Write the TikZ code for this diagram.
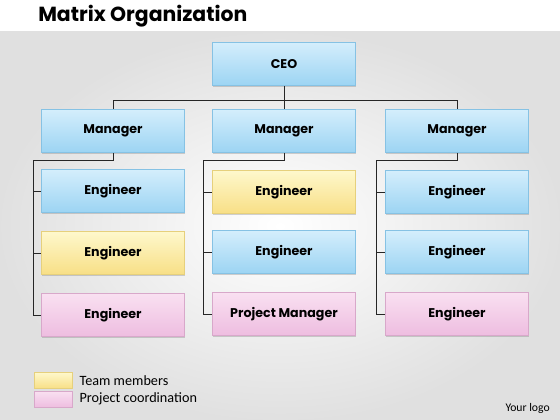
\documentclass[tikz,border=0pt]{standalone}
\usepackage{fontspec}
\setmainfont{Carlito}
\newfontfamily\headfont{Poppins}
\usetikzlibrary{positioning,shadows}

\definecolor{blueTop}{HTML}{D4EEFC}
\definecolor{blueBot}{HTML}{9CD4F3}
\definecolor{blueLine}{HTML}{86C2E4}
\definecolor{yellowTop}{HTML}{FEF8CC}
\definecolor{yellowBot}{HTML}{F8DF86}
\definecolor{yellowLine}{HTML}{E6D07C}
\definecolor{pinkTop}{HTML}{F9E0F1}
\definecolor{pinkBot}{HTML}{EEBDE0}
\definecolor{pinkLine}{HTML}{D8A8CA}

\tikzset{
    box/.style={draw=#1Line, top color=#1Top, bottom color=#1Bot,
        minimum width=3.575cm, minimum height=1.075cm, inner sep=0pt,
        font=\headfont\bfseries\fontsize{9}{11}\selectfont,
        drop shadow={shadow xshift=0.4pt, shadow yshift=-1pt, opacity=0.35}},
    swatch/.style={draw=#1Line, top color=#1Top, bottom color=#1Bot,
        minimum width=0.95cm, minimum height=0.4cm, inner sep=0pt},
    link/.style={line width=0.7pt, black!85},
}

\begin{document}
\begin{tikzpicture}[x=0.025cm, y=-0.025cm]
    \useasboundingbox (0,0) rectangle (560,420);

    % Background
    \fill[white] (0,0) rectangle (560,32);
    \fill[inner color=white, outer color=gray!24] (0,32) rectangle (560,420);
    \node[anchor=west, inner sep=0pt, font=\headfont\bfseries\fontsize{14.5}{16}\selectfont] (title) at (38,16) {Matrix Organization};

    % Top level
    \node[box=blue] (ceo) at (284,64) {CEO};
    \node[box=blue] (m1) at (113,131) {Manager};
    \node[box=blue] (m2) at (284,131) {Manager};
    \node[box=blue] (m3) at (457,131) {Manager};
    \coordinate (bus) at (284,100);
    \draw[link] (ceo.south) -- (m2.north);
    \draw[link] (m1.north) -- (m1.north |- bus) -- (m3.north |- bus) -- (m3.north);

    % Columns
    \node[box=blue]   (e11) at (113,191) {Engineer};
    \node[box=yellow] (e12) at (113,253) {Engineer};
    \node[box=pink]   (e13) at (113,315) {Engineer};
    \node[box=yellow] (e21) at (284,192) {Engineer};
    \node[box=blue]   (e22) at (284,252) {Engineer};
    \node[box=pink]   (e23) at (284,314) {Project Manager};
    \node[box=blue]   (e31) at (457,192) {Engineer};
    \node[box=blue]   (e32) at (457,252) {Engineer};
    \node[box=pink]   (e33) at (457,314) {Engineer};

    \foreach \c/\sx in {1/33, 2/203.5, 3/376.5} {
        \coordinate (s\c) at (\sx,160);
        \draw[link] (m\c.south) |- (s\c) -- (s\c |- e\c3) -- (e\c3.west);
        \draw[link] (s\c |- e\c1) -- (e\c1.west);
        \draw[link] (s\c |- e\c2) -- (e\c2.west);
    }

    % Legend
    \node[swatch=yellow, anchor=north west] (team) at (34,372) {};
    \node[swatch=pink, anchor=north west] (coord) at (34,391) {};
    \node[anchor=west, font=\fontsize{10.1}{12}\selectfont, inner sep=0pt] at ([xshift=0.17cm]team.east) {Team members};
    \node[anchor=west, font=\fontsize{10.1}{12}\selectfont, inner sep=0pt] at ([xshift=0.17cm]coord.east) {Project coordination};
    \node[anchor=east, font=\fontsize{8.3}{10}\selectfont, inner sep=0pt] (logo) at (550,408) {Your logo};
\end{tikzpicture}
\end{document}
